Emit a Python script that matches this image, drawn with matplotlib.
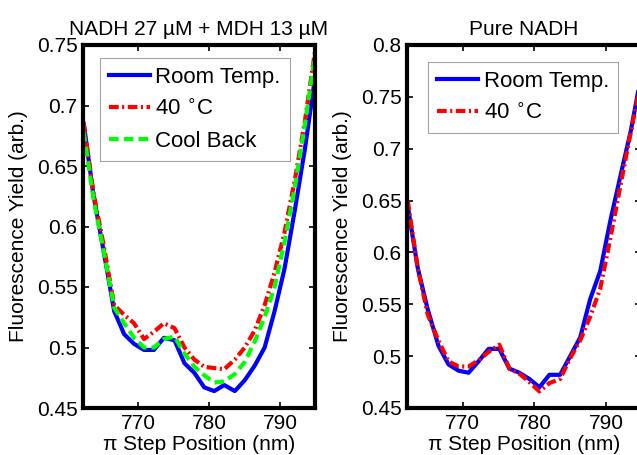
import matplotlib
matplotlib.use("Agg")
import matplotlib.pyplot as plt

# step positions (nm)
wl = [762.3, 763.7, 765.1, 766.6, 768.0, 769.4, 770.8, 772.2, 773.6, 775.1, 776.5, 777.9,
      779.3, 780.7, 782.1, 783.6, 785.0, 786.4, 787.8, 789.2, 790.6, 792.1, 793.5, 794.9]

# NADH 27 uM + MDH 13 uM
mdh_room = [0.685, 0.625, 0.580, 0.530, 0.511, 0.503, 0.498, 0.498, 0.508, 0.506, 0.487, 0.479,
            0.467, 0.464, 0.469, 0.464, 0.473, 0.485, 0.500, 0.530, 0.565, 0.615, 0.665, 0.723]
mdh_40 = [0.685, 0.627, 0.585, 0.535, 0.527, 0.520, 0.507, 0.513, 0.520, 0.516, 0.500, 0.490,
          0.484, 0.483, 0.482, 0.490, 0.500, 0.514, 0.535, 0.562, 0.595, 0.640, 0.688, 0.745]
mdh_cool = [0.678, 0.622, 0.580, 0.533, 0.520, 0.508, 0.500, 0.500, 0.507, 0.509, 0.495, 0.484,
            0.477, 0.471, 0.472, 0.478, 0.488, 0.505, 0.525, 0.550, 0.587, 0.634, 0.685, 0.742]

# Pure NADH
pure_room = [0.645, 0.585, 0.545, 0.510, 0.492, 0.486, 0.484, 0.495, 0.507, 0.507, 0.488, 0.484,
             0.478, 0.470, 0.482, 0.482, 0.500, 0.518, 0.555, 0.582, 0.630, 0.676, 0.718, 0.770]
pure_40 = [0.650, 0.585, 0.540, 0.515, 0.495, 0.490, 0.490, 0.496, 0.504, 0.511, 0.488, 0.483,
           0.475, 0.466, 0.474, 0.478, 0.498, 0.515, 0.538, 0.565, 0.613, 0.667, 0.717, 0.765]

titles = ["NADH 27 \u00b5M + MDH 13 \u00b5M", "Pure NADH"]
yt_left = [0.45, 0.5, 0.55, 0.6, 0.65, 0.7, 0.75]
yt_right = [0.45, 0.5, 0.55, 0.6, 0.65, 0.7, 0.75, 0.8]

plt.rcParams['font.family'] = ['Liberation Sans', 'DejaVu Sans']
plt.rcParams['font.size'] = 15
plt.rcParams['lines.scale_dashes'] = False

fig = plt.figure(figsize=(6.37, 4.55), dpi=100)
ax1 = fig.add_axes([83/637, 47/455, 232/637, 363/455])
ax2 = fig.add_axes([407/637, 47/455, 234/637, 363/455])

lw = 3
dashdot = (0, (7, 2.5, 1.5, 2.5))
dashed = (0, (7, 3.6))

ax1.plot(wl, mdh_room, color='#0000ff', lw=lw, label='Room Temp.')
ax1.plot(wl, mdh_40, color='#ff0000', lw=lw, ls=dashdot, label='40 $^{\\circ}$C')
ax1.plot(wl, mdh_cool, color='#00ff00', lw=lw, ls=dashed, label='Cool Back')

ax2.plot(wl, pure_room, color='#0000ff', lw=lw, label='Room Temp.')
ax2.plot(wl, pure_40, color='#ff0000', lw=lw, ls=dashdot, label='40 $^{\\circ}$C')

for ax, title, yt in [(ax1, titles[0], yt_left), (ax2, titles[1], yt_right)]:
    ax.set_xlim(762.2, 794.9)
    ax.set_ylim(yt[0], yt[-1])
    ax.set_xticks([770, 780, 790])
    ax.set_yticks(yt)
    ax.set_yticklabels([('%g' % v) for v in yt])
    ax.tick_params(direction='in', top=True, right=True, length=4, width=1.2, pad=4)
    for s in ax.spines.values():
        s.set_linewidth(3)
    ax.set_title(title, fontsize=15, pad=7)
    ax.set_xlabel('\u03c0 Step Position (nm)', labelpad=2)
    ax.set_ylabel('Fluorescence Yield (arb.)', labelpad=6)

leg_kw = dict(loc='upper left', borderaxespad=0, fancybox=False, handlelength=1.85,
              handletextpad=0.25, labelspacing=0.5, borderpad=0.4, fontsize=16)
l1 = ax1.legend(bbox_to_anchor=(0.073, 0.964), **leg_kw)
l2 = ax2.legend(bbox_to_anchor=(0.09, 0.953), **leg_kw)
for lg in (l1, l2):
    lg.get_frame().set_edgecolor('0.55')
    lg.get_frame().set_linewidth(0.8)

plt.savefig('out.png', dpi=100)
